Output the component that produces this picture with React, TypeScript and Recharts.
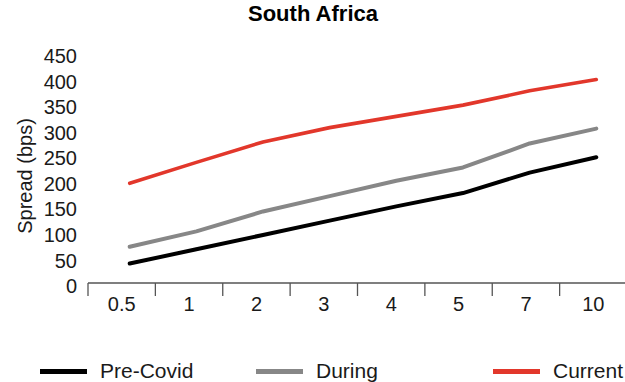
import React from 'react';
import { LineChart, Line, XAxis, YAxis, Legend, Customized } from 'recharts';

// Tenors (years) and spreads in basis points
const tenors = ['0.5', '1', '2', '3', '4', '5', '7', '10'];
const preCovid = [38, 66, 94, 122, 150, 176, 216, 246];
const during = [71, 101, 140, 170, 200, 226, 273, 302];
const current = [195, 236, 276, 304, 326, 348, 376, 398];
const yTicks = [0, 50, 100, 150, 200, 250, 300, 350, 400, 450];

const title = 'South Africa';
const yLabel = 'Spread (bps)';

const series = [
  { key: 'preCovid', name: 'Pre-Covid', color: '#000000', width: 4 },
  { key: 'during', name: 'During', color: '#878787', width: 4 },
  { key: 'current', name: 'Current', color: '#e2372b', width: 3.6 },
];

const data = tenors.map((tenor, i) => ({
  tenor,
  preCovid: preCovid[i],
  during: during[i],
  current: current[i],
}));

const FONT = '"Liberation Sans", Arial, Helvetica, sans-serif';
const VIEW_W = 625;
const CHART_W = 633;
const CHART_H = 382;
const Y_AXIS_W = 88;
const MARGIN = { top: 53, right: 6, bottom: 0, left: 0 };
const PLOT_W = CHART_W - Y_AXIS_W - MARGIN.right - MARGIN.left;
const BAND = PLOT_W / tenors.length;
const LEGEND_ITEM_W = [216, 237, 130];

const XTick = (props: any) => {
  const { x, y, payload } = props;
  const left = x - BAND / 2;
  return (
    <g>
      <line x1={left} y1={y} x2={left} y2={y + 13} stroke="#555555" strokeWidth={1.3} />
      <text x={x} y={y + 27.5} textAnchor="middle" fontSize={20} fill="#1a1a1a" fontFamily={FONT}>
        {payload.value}
      </text>
    </g>
  );
};

const renderLegend = () => (
  <div style={{ display: 'flex', alignItems: 'center', height: 24, paddingLeft: 40, fontFamily: FONT }}>
    {series.map((s, i) => (
      <div key={s.key} style={{ display: 'flex', alignItems: 'center', width: LEGEND_ITEM_W[i] }}>
        <span style={{ display: 'inline-block', width: 47, height: 5, background: s.color, marginRight: 13 }} />
        <span style={{ fontSize: 21, lineHeight: '24px', color: '#1a1a1a', whiteSpace: 'nowrap' }}>{s.name}</span>
      </div>
    ))}
  </div>
);

const Decorations = () => (
  <g fontFamily={FONT}>
    <text x={313} y={21} textAnchor="middle" fontWeight="bold" fontSize={22} fill="#000">
      {title}
    </text>
    <text
      transform="translate(25,176) rotate(-90)"
      textAnchor="middle"
      dominantBaseline="central"
      fontSize={20}
      fill="#1a1a1a"
    >
      {yLabel}
    </text>
  </g>
);

export default function App() {
  return (
    <div style={{ width: VIEW_W, height: CHART_H, overflow: 'hidden', position: 'relative', fontFamily: FONT }}>
      <style>{'body{margin:0}'}</style>
      <LineChart width={CHART_W} height={CHART_H} data={data} margin={MARGIN}>
        <XAxis
          dataKey="tenor"
          type="category"
          padding={{ left: BAND / 2, right: BAND / 2 }}
          height={75}
          tickSize={0}
          tickMargin={0}
          tickLine={false}
          axisLine={{ stroke: '#555555', strokeWidth: 1.3 }}
          tick={<XTick />}
          interval={0}
        />
        <XAxis
          xAxisId="pts"
          dataKey="tenor"
          type="category"
          hide
          padding={{ left: 41.7, right: 30.7 }}
        />
        <YAxis
          width={Y_AXIS_W}
          domain={[0, 450]}
          ticks={yTicks}
          interval={0}
          axisLine={false}
          tickLine={false}
          tickMargin={5}
          tick={{ fontSize: 20, fill: '#1a1a1a', fontFamily: FONT, dy: 3 }}
        />
        {series.map((s) => (
          <Line
            key={s.key}
            xAxisId="pts"
            dataKey={s.key}
            name={s.name}
            stroke={s.color}
            strokeWidth={s.width}
            strokeLinejoin="round"
            strokeLinecap="round"
            dot={false}
            activeDot={false}
            isAnimationActive={false}
          />
        ))}
        <Legend content={renderLegend} wrapperStyle={{ top: 359, left: 0 }} />
        <Customized component={Decorations} />
      </LineChart>
    </div>
  );
}
